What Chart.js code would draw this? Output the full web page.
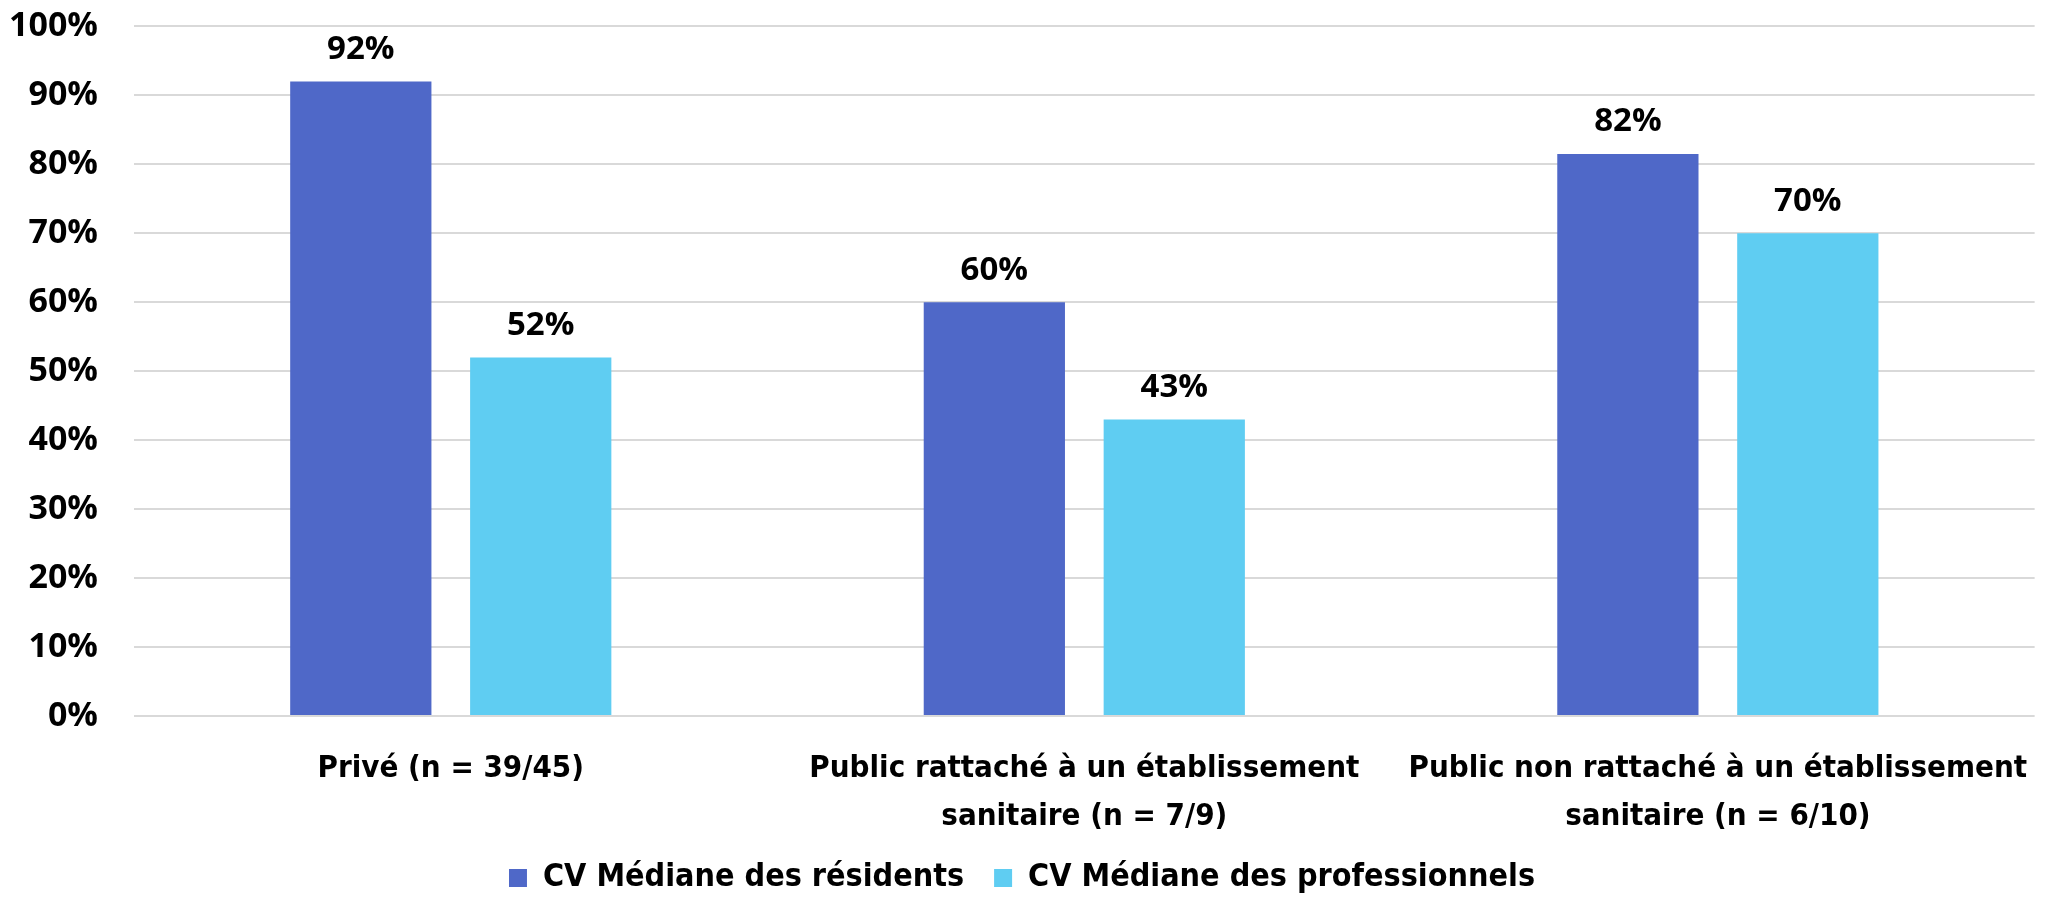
<!DOCTYPE html>
<html>
<head>
<meta charset="utf-8">
<script src="https://cdn.jsdelivr.net/npm/chart.js@4.4.1/dist/chart.umd.min.js"></script>
<style>
html,body{margin:0;padding:0;background:#fff;}
#wrap{width:2049px;height:897px;}
</style>
</head>
<body>
<div id="wrap"><canvas id="c" width="2049" height="897"></canvas></div>
<script>
const categories = [
  "Privé (n = 39/45)",
  ["Public rattaché à un établissement", "sanitaire (n = 7/9)"],
  ["Public non rattaché à un établissement", "sanitaire (n = 6/10)"]
];
const seriesNames = ["CV Médiane des résidents", "CV Médiane des professionnels"];
const residents = [92, 60, 81.5];
const professionnels = [52, 43, 70];
const yTicks = [0, 10, 20, 30, 40, 50, 60, 70, 80, 90, 100];

const numFont = "'Open Sans', 'Noto Sans', sans-serif";
const txtFont = "'Liberation Sans Narrow', 'DejaVu Sans Condensed', 'Roboto Condensed', sans-serif";

const valueLabels = {
  id: 'valueLabels',
  afterDatasetsDraw(chart) {
    const ctx = chart.ctx;
    ctx.save();
    ctx.fillStyle = '#000';
    ctx.font = "bold 33px " + numFont;
    ctx.textAlign = 'center';
    ctx.textBaseline = 'middle';
    chart.data.datasets.forEach((ds, i) => {
      const meta = chart.getDatasetMeta(i);
      meta.data.forEach((bar, j) => {
        ctx.fillText(Math.round(ds.data[j]) + '%', bar.x, bar.y - 32);
      });
    });
    ctx.restore();
  }
};

new Chart(document.getElementById('c'), {
  type: 'bar',
  data: {
    labels: categories,
    datasets: [
      { label: seriesNames[0], data: residents, backgroundColor: '#4F68C8' },
      { label: seriesNames[1], data: professionnels, backgroundColor: '#5FCDF2' }
    ]
  },
  options: {
    responsive: false,
    animation: false,
    layout: { padding: { top: 0, right: 5, left: 0, bottom: -7 } },
    datasets: { bar: { categoryPercentage: 0.568, barPercentage: 0.785 } },
    plugins: {
      legend: {
        position: 'bottom',
        labels: {
          font: { family: txtFont, size: 32, weight: 'bold' },
          color: '#000',
          boxWidth: 18, boxHeight: 18,
          padding: 30
        }
      },
      tooltip: { enabled: false }
    },
    scales: {
      x: {
        grid: { display: false },
        border: { display: false },
        afterFit(axis) { axis.height = 116; },
        ticks: {
          color: '#000',
          font: { family: txtFont, size: 31, weight: 'bold', lineHeight: 1.55 },
          padding: 21,
          maxRotation: 0, autoSkip: false
        }
      },
      y: {
        min: 0, max: 100,
        afterBuildTicks(axis) { axis.ticks = yTicks.map(v => ({ value: v })); },
        afterFit(axis) { axis.width = 134; },
        grid: { color: '#D9D9D9', lineWidth: 2, drawTicks: true, tickLength: 30, tickColor: 'rgba(0,0,0,0)' },
        border: { display: false },
        ticks: {
          color: '#000',
          font: { family: numFont, size: 34, weight: 'bold' },
          padding: 6,
          callback: v => v + '%'
        }
      }
    }
  },
  plugins: [valueLabels]
});
</script>
</body>
</html>
